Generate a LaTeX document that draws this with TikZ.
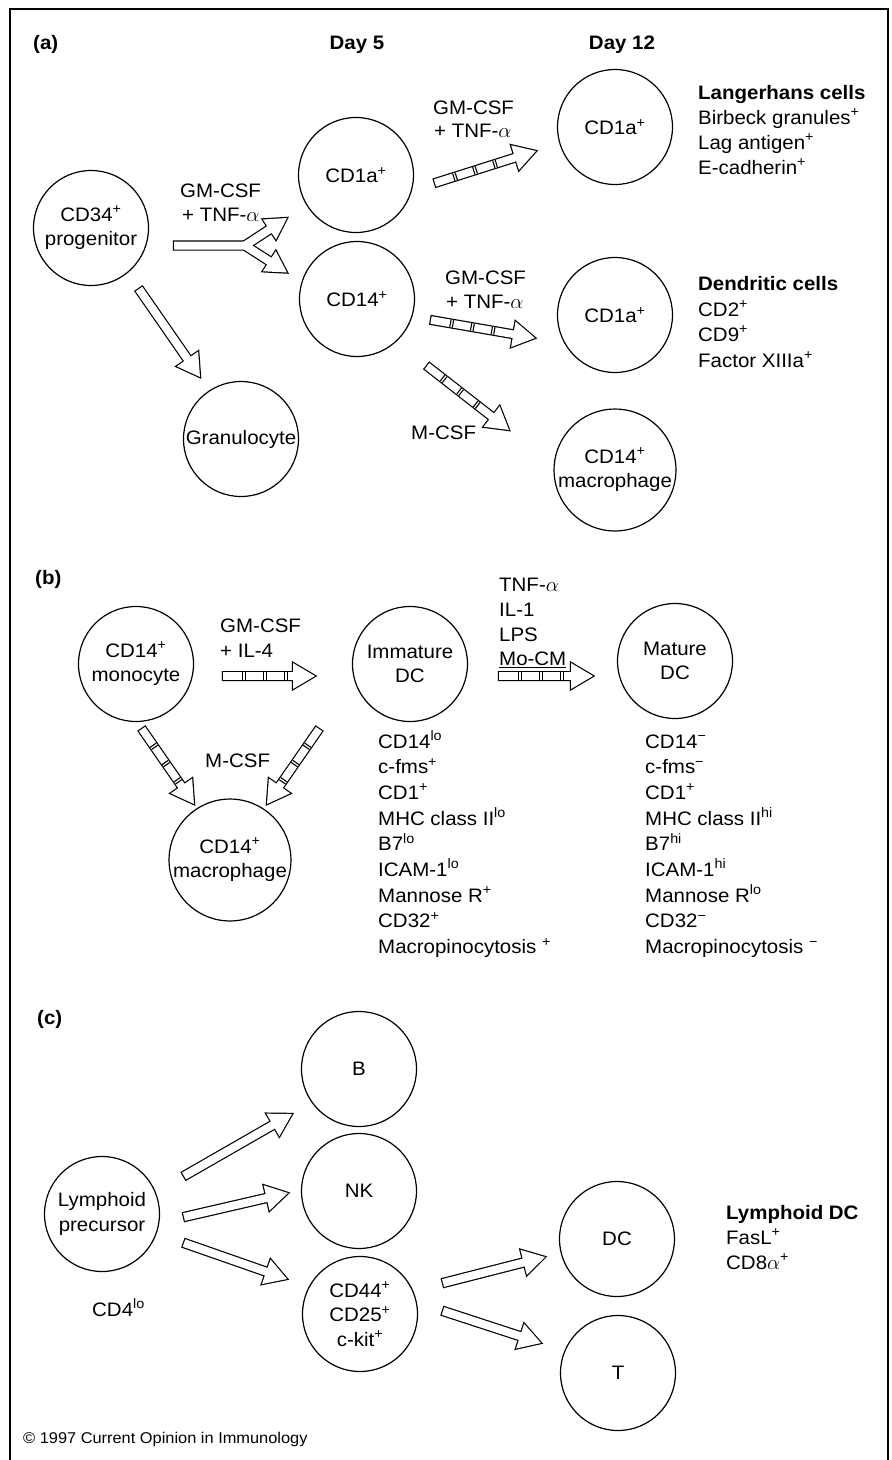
\documentclass[tikz,border=0pt]{standalone}
\usepackage{fontspec}
\setmainfont[FakeStretch=1.05]{Liberation Sans}
\usetikzlibrary{calc}
\newcommand{\fs}{\fontsize{19.5}{24.5}\selectfont}
\newcommand{\fsb}{\fontsize{19.5}{24.5}\selectfont\bfseries}
\newcommand{\sps}[1]{\textsuperscript{#1}}
\newcommand{\arrowshape}[6]{%
  \coordinate (hb) at ($(#3)!#6!(#2)$);
  \path[#1] ($(#2)!#4!90:(#3)$) -- ($(hb)!#4!90:(#3)$) -- ($(hb)!#5!90:(#3)$) -- (#3)
     -- ($(hb)!#5!-90:(#3)$) -- ($(hb)!#4!-90:(#3)$) -- ($(#2)!#4!-90:(#3)$) -- cycle;
}
\newcommand{\hollow}[2]{%
  \arrowshape{outl}{#1}{#2}{4pt}{13pt}{22pt}%
  \arrowshape{fil}{#1}{#2}{4pt}{13pt}{22pt}%
}
\newcommand{\striped}[2]{%
  \arrowshape{outl}{#1}{#2}{3.8pt}{13pt}{22pt}%
  \arrowshape{fil}{#1}{#2}{3.8pt}{13pt}{22pt}%
  \foreach \kk in {1,2,3}{%
    \foreach \off in {-1.3,1.3}{%
      \pgfmathsetmacro\dd{21*\kk+\off}%
      \coordinate (sq) at ($(#1)!\dd pt!(#2)$);
      \draw[line width=1.1pt] ($(sq)!3.8pt!90:(#2)$) -- ($(sq)!3.8pt!-90:(#2)$);
    }%
  }%
}
\tikzset{
  cell/.style={circle, draw, line width=1.2pt, minimum size=115pt, inner sep=0pt, align=center, font=\fs},
  lbl/.style={anchor=base west, inner sep=0pt, font=\fs},
  hd/.style={anchor=base west, inner sep=0pt, font=\fsb},
  outl/.style={draw, line width=2.4pt, line join=miter},
  fil/.style={fill=white},
}
\begin{document}
\begin{tikzpicture}[x=1pt,y=1pt]
\useasboundingbox (0,0) rectangle (892,-1460);
\draw[line width=1.6pt] (10,-1470) -- (10,-9) -- (888,-9) -- (888,-1470);

% ---------------- (a)
\node[hd] (la) at (33,-49) {(a)};
\node[hd,anchor=base] (d5) at (357,-49) {Day 5};
\node[hd,anchor=base] (d12) at (622,-49) {Day 12};

\node[cell] (cdp) at (91,-228) {CD34\sps{+}\\progenitor};
\node[cell] (d5a) at (356,-175) {CD1a\sps{+}};
\node[cell] (d5b) at (357,-299) {CD14\sps{+}};
\node[cell] (gran) at (241,-439) {Granulocyte};
\node[cell] (d12a) at (615,-127) {CD1a\sps{+}};
\node[cell] (d12b) at (615,-315) {CD1a\sps{+}};
\node[cell] (mac1) at (615,-470) {CD14\sps{+}\\macrophage};

\node[lbl] (gm1a) at (180,-197.5) {GM-CSF};
\node[lbl] (gm1b) at (182,-221) {+ TNF-$\alpha$};
\node[lbl] (gm2a) at (433,-114) {GM-CSF};
\node[lbl] (gm2b) at (434,-137.5) {+ TNF-$\alpha$};
\node[lbl] (gm3a) at (445,-284) {GM-CSF};
\node[lbl] (gm3b) at (446,-308) {+ TNF-$\alpha$};
\node[lbl] (mcsfa) at (411,-439) {M-CSF};

\node[hd] (lc0) at (698,-99) {Langerhans cells};
\node[lbl] (lc1) at (698,-124) {Birbeck granules\sps{+}};
\node[lbl] (lc2) at (698,-149) {Lag antigen\sps{+}};
\node[lbl] (lc3) at (698,-174) {E-cadherin\sps{+}};

\node[hd] (dc0) at (698,-290.5) {Dendritic cells};
\node[lbl] (dc1) at (698,-316) {CD2\sps{+}};
\node[lbl] (dc2) at (698,-341.5) {CD9\sps{+}};
\node[lbl] (dc3) at (698,-367) {Factor XIIIa\sps{+}};

% fork arrow
\coordinate (fk0) at (174,-245.5);
\coordinate (fk1) at (252,-245.5);
\coordinate (fkj) at (245,-245.5);
\coordinate (fku) at (287,-218);
\coordinate (fkl) at (287,-272.5);
\arrowshape{outl}{fk0}{fk1}{4pt}{4pt}{1pt}
\arrowshape{outl}{fkj}{fku}{4pt}{12pt}{21pt}
\arrowshape{outl}{fkj}{fkl}{4pt}{12pt}{21pt}
\arrowshape{fil}{fk0}{fk1}{4pt}{4pt}{1pt}
\arrowshape{fil}{fkj}{fku}{4pt}{12pt}{21pt}
\arrowshape{fil}{fkj}{fkl}{4pt}{12pt}{21pt}

\coordinate (g0) at (139,-289);
\coordinate (g1) at (200,-377);
\hollow{g0}{g1}

\coordinate (a1t) at (435,-183);
\coordinate (a1h) at (536,-151);
\striped{a1t}{a1h}
\coordinate (a2t) at (431,-320);
\coordinate (a2h) at (535,-338);
\striped{a2t}{a2h}
\coordinate (a3t) at (427,-366);
\coordinate (a3h) at (509,-430);
\striped{a3t}{a3h}

% ---------------- (b)
\node[hd] (lb) at (35,-584) {(b)};
\node[cell] (mono) at (136,-664) {CD14\sps{+}\\monocyte};
\node[cell] (imm) at (410,-664) {Immature\\DC};
\node[cell] (mat) at (675,-661) {Mature\\DC};
\node[cell] (mac2) at (230,-860) {CD14\sps{+}\\macrophage};

\node[lbl] (gmb1) at (220,-632) {GM-CSF};
\node[lbl] (gmb2) at (220,-657) {+ IL-4};
\node[lbl] (mcsfb) at (205,-767) {M-CSF};
\node[lbl] (tn1) at (499,-591) {TNF-$\alpha$};
\node[lbl] (tn2) at (499,-616.5) {IL-1};
\node[lbl] (tn3) at (499,-641.5) {LPS};
\node[lbl] (tn4) at (499,-665.5) {\underline{Mo-CM}};

\coordinate (b1t) at (223,-676);
\coordinate (b1h) at (315,-676);
\striped{b1t}{b1h}
\coordinate (b2t) at (499,-676);
\coordinate (b2h) at (593,-676);
\striped{b2t}{b2h}
\coordinate (b3t) at (142,-729);
\coordinate (b3h) at (194,-804);
\striped{b3t}{b3h}
\coordinate (b4t) at (319,-729);
\coordinate (b4h) at (267,-804);
\striped{b4t}{b4h}

\foreach [count=\i] \t in {CD14\sps{lo}, c-fms\sps{+}, CD1\sps{+}, MHC class II\sps{lo}, B7\sps{lo}, ICAM-1\sps{lo}, Mannose R\sps{+}, CD32\sps{+}, Macropinocytosis \sps{+}}{
  \node[lbl] (iml\i) at (378,{-748-25.7*(\i-1)}) {\t};
}
\foreach [count=\i] \t in {CD14\sps{−}, c-fms\sps{−}, CD1\sps{+}, MHC class II\sps{hi}, B7\sps{hi}, ICAM-1\sps{hi}, Mannose R\sps{lo}, CD32\sps{−}, Macropinocytosis \sps{−}}{
  \node[lbl] (mdl\i) at (645,{-748-25.7*(\i-1)}) {\t};
}

% ---------------- (c)
\node[hd] (lcc) at (37,-1024) {(c)};
\node[cell] (lym) at (102,-1214) {Lymphoid\\precursor};
\node[cell] (bc) at (359,-1069) {B};
\node[cell] (nk) at (359,-1191) {NK};
\node[cell] (pro) at (360,-1314) {CD44\sps{+}\\CD25\sps{+}\\c-kit\sps{+}};
\node[cell] (dcc) at (617,-1239) {DC};
\node[cell] (tc) at (618,-1373) {T};

\node[lbl] (cd4) at (92,-1316) {CD4\sps{lo}};
\node[hd] (ld0) at (726,-1219) {Lymphoid DC};
\node[lbl] (ld1) at (726,-1244) {FasL\sps{+}};
\node[lbl] (ld2) at (726,-1269) {CD8$\alpha$\sps{+}};

\coordinate (c1t) at (184,-1176);
\coordinate (c1h) at (292,-1114);
\hollow{c1t}{c1h}
\coordinate (c2t) at (184,-1217);
\coordinate (c2h) at (288,-1193);
\hollow{c2t}{c2h}
\coordinate (c3t) at (184,-1243);
\coordinate (c3h) at (287,-1279);
\hollow{c3t}{c3h}
\coordinate (c4t) at (443,-1283);
\coordinate (c4h) at (545,-1257);
\hollow{c4t}{c4h}
\coordinate (c5t) at (443,-1311);
\coordinate (c5h) at (541,-1343);
\hollow{c5t}{c5h}

\node[anchor=base west, inner sep=0pt, font=\fontsize{15.6}{18}\selectfont] (copy) at (23,-1443) {© 1997 Current Opinion in Immunology};
\end{tikzpicture}
\end{document}
